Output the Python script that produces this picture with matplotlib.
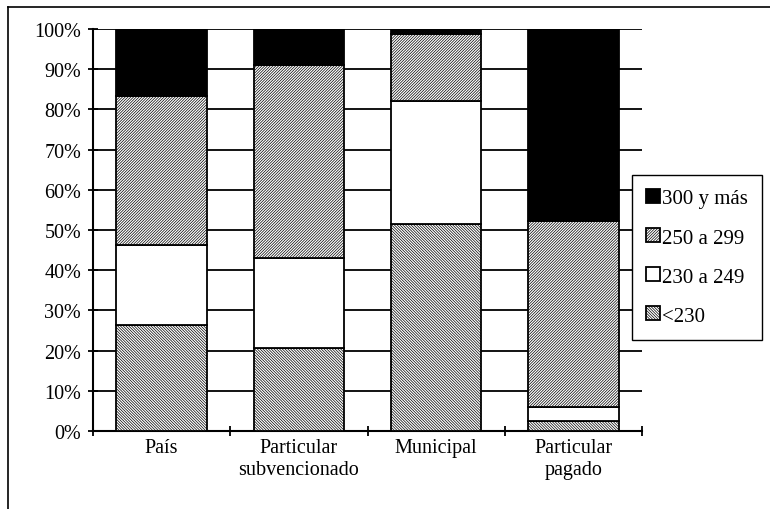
import matplotlib
matplotlib.use("Agg")
import matplotlib.pyplot as plt
import numpy as np
from matplotlib.lines import Line2D
from matplotlib.ticker import PercentFormatter, FixedLocator

categories = ["País", "Particular\nsubvencionado", "Municipal", "Particular\npagado"]
lt230 = [26.4, 20.6, 51.5, 2.5]
r230_249 = [19.9, 22.4, 30.6, 3.5]
r250_299 = [37.0, 48.0, 16.7, 46.2]
r300 = [16.7, 9.0, 1.2, 47.8]
series_labels = ["<230", "230 a 249", "250 a 299", "300 y más"]

plt.rcParams['font.family'] = ['Liberation Serif', 'DejaVu Serif']
plt.rcParams['hatch.linewidth'] = 0.5
plt.rcParams['hatch.color'] = '#333333'

fig = plt.figure(figsize=(7.7, 5.1), dpi=100)
ax = fig.add_axes([93/770, 1-432/510, (642-93)/770, (432-30)/510])

x = np.arange(len(categories))
w = 0.66
styles = [
    dict(facecolor="white", hatch="\\" * 12),
    dict(facecolor="white", hatch=None),
    dict(facecolor="white", hatch="/" * 12),
    dict(facecolor="black", hatch=None),
]
series = [lt230, r230_249, r250_299, r300]
bottom = np.zeros(len(categories))
handles = []
for vals, st, lab in zip(series, styles, series_labels):
    b = ax.bar(x, vals, w, bottom=bottom, edgecolor="black", linewidth=1.3,
               label=lab, zorder=3, **st)
    handles.append(b)
    bottom += np.array(vals)

ax.set_xlim(-0.5, len(categories) - 0.5)
ax.set_ylim(0, 100)
ax.yaxis.set_major_locator(FixedLocator(np.arange(0, 101, 10)))
ax.yaxis.set_major_formatter(PercentFormatter(decimals=0))
ax.grid(axis="y", color="black", linewidth=1.3, zorder=0)
ax.set_axisbelow(True)

ax.set_xticks(x)
ax.set_xticklabels(categories, fontsize=14.5, linespacing=1.2)
ax.tick_params(axis="x", length=0, pad=5)
ax.set_xticks(np.arange(-0.5, len(categories), 1), minor=True)
ax.tick_params(axis="x", which="minor", length=7, width=1.3, direction="inout")
ax.tick_params(axis="y", length=7, width=1.3, direction="inout", labelsize=14.5, pad=5)

for s in ["top", "right"]:
    ax.spines[s].set_visible(False)
for s in ["left", "bottom"]:
    ax.spines[s].set_linewidth(1.5)

leg = fig.legend(handles[::-1], series_labels[::-1], loc="upper left",
                 bbox_to_anchor=(632/770, 1-176/510), frameon=True, fancybox=False,
                 edgecolor="black", fontsize=15, handlelength=0.65, handleheight=0.65,
                 handletextpad=0.1, labelspacing=0.95, borderpad=0.68, borderaxespad=0,
                 framealpha=1)
leg.get_frame().set_linewidth(1.0)

fig.add_artist(Line2D([8/770, 1.0], [1-8/510, 1-8/510], transform=fig.transFigure,
                      color="black", linewidth=1.2))
fig.add_artist(Line2D([8/770, 8/770], [0, 1-8/510], transform=fig.transFigure,
                      color="black", linewidth=1.2))

fig.savefig("out.png", dpi=100)
